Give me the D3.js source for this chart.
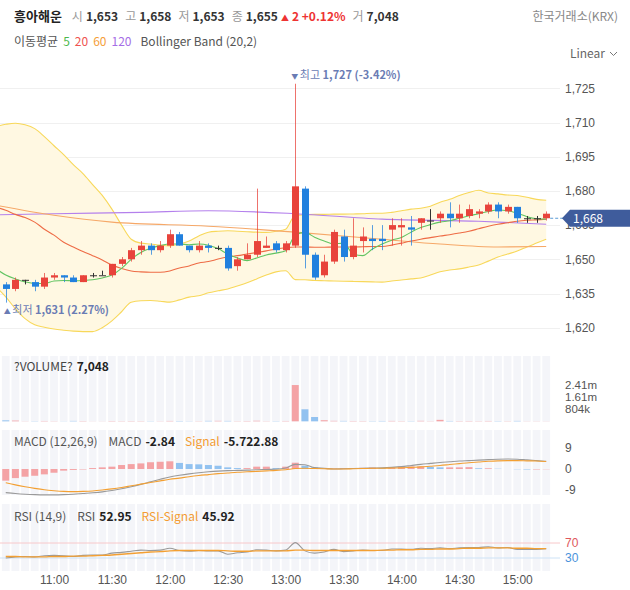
<!DOCTYPE html>
<html><head><meta charset="utf-8">
<script src="https://cdn.jsdelivr.net/npm/d3@7"></script>
<style>
html,body{margin:0;padding:0;background:#fff;}
svg{display:block;font-family:"Noto Sans CJK KR","Noto Sans",sans-serif;}
</style></head><body>
<svg id="c" width="630" height="590"></svg>
<script>
// ---------------- DATA ----------------
const times = ["10:35","10:40","10:45","10:50","10:55","11:00","11:05","11:10","11:15","11:20","11:25","11:30","11:35","11:40","11:45","11:50","11:55","12:00","12:05","12:10","12:15","12:20","12:25","12:30","12:35","12:40","12:45","12:50","12:55","13:00","13:05","13:10","13:15","13:20","13:25","13:30","13:35","13:40","13:45","13:50","13:55","14:00","14:05","14:10","14:15","14:20","14:25","14:30","14:35","14:40","14:45","14:50","14:55","15:00","15:05","15:10","15:15"];
const open  = [1639,1637,1641,1640,1638,1642,1643,1642,1640,1643,1643,1643,1648,1650,1654,1656,1654,1656,1661,1656,1654,1656,1655,1655,1647,1650,1652,1655,1657,1654,1656,1681,1652,1643,1649,1660,1651,1658,1659,1659,1663,1664,1664,1666,1667,1668,1670,1668,1669,1670,1671,1674,1671,1673,1668,1668,1668];
const high  = [1640,1642,1641,1641,1644,1644,1643,1643,1643,1644,1645,1648,1651,1655,1658,1657,1658,1663,1662,1656,1658,1657,1656,1656,1651,1657,1681,1660,1658,1658,1727,1682,1653,1652,1663,1663,1668,1664,1665,1665,1668,1668,1669,1668,1672,1671,1675,1674,1674,1672,1675,1675,1674,1673,1669,1669,1671];
const low   = [1631,1636,1639,1636,1637,1641,1640,1640,1640,1642,1643,1642,1647,1649,1652,1652,1653,1655,1656,1653,1653,1653,1654,1645,1645,1650,1651,1655,1653,1653,1655,1646,1641,1642,1648,1649,1650,1653,1654,1654,1656,1656,1656,1663,1663,1666,1664,1666,1668,1668,1670,1668,1670,1666,1666,1666,1667];
const close = [1637,1641,1641,1638,1642,1643,1642,1640,1643,1643,1643,1648,1650,1654,1656,1654,1656,1661,1656,1654,1656,1655,1655,1646,1650,1652,1658,1656,1654,1657,1682,1652,1642,1649,1662,1651,1656,1660,1658,1658,1665,1665,1663,1668,1667,1670,1668,1670,1672,1671,1674,1671,1673,1668,1668,1668,1670];
const volume = [62000,48000,9000,14000,22000,12000,7000,26000,18000,5000,6000,20000,15000,18000,16000,12000,10000,24000,20000,11000,13000,28000,30000,25000,14000,20000,35000,12000,15000,22000,2370000,785000,280000,70000,30000,25000,20000,18000,15000,22000,25000,16000,14000,30000,12000,95000,22000,18000,20000,15000,22000,16000,14000,25000,8000,9000,7048];

// line series start one bar earlier (10:30) than the visible candles
const lineTimes = ["10:30"].concat(times);
const bbUpper = [1708.3,1709.2,1709.7,1709.0,1707.3,1703.8,1699.8,1695.9,1691.5,1687.6,1682.8,1678.0,1672.0,1665.0,1658.8,1657.1,1656.7,1656.2,1655.9,1656.7,1658.0,1660.2,1661.9,1662.3,1662.5,1662.3,1662.1,1661.9,1661.8,1662.3,1663.2,1669.3,1669.5,1669.7,1669.7,1669.8,1669.8,1669.9,1670.0,1670.2,1670.2,1670.6,1671.3,1672.0,1672.4,1673.3,1675.0,1676.3,1678.0,1679.3,1680.3,1679.1,1678.7,1678.2,1678.0,1677.2,1676.3,1675.9];
const bbLower = [1637.9,1633.5,1628.3,1624.0,1621.3,1620.2,1619.4,1618.9,1618.5,1618.3,1618.3,1620.0,1623.0,1627.0,1631.2,1631.8,1631.9,1631.6,1631.2,1632.2,1633.4,1634.0,1635.3,1636.2,1637.0,1638.3,1639.7,1641.4,1643.1,1644.5,1645.0,1641.1,1641.0,1640.7,1640.6,1640.5,1640.4,1640.3,1640.2,1640.1,1640.0,1640.5,1640.9,1641.4,1641.8,1643.1,1644.5,1645.3,1645.8,1646.6,1647.5,1649.2,1651.0,1652.3,1653.6,1655.4,1657.1,1658.8];
const ma5 = [1645.8,1643.1,1641.4,1640.1,1639.4,1639.4,1640.5,1640.7,1640.6,1640.7,1641.0,1641.8,1643.1,1646.0,1650.0,1653.0,1654.8,1656.0,1656.7,1656.7,1656.4,1656.7,1656.2,1654.7,1652.3,1650.6,1649.4,1650.6,1651.9,1652.7,1653.7,1660.6,1661.8,1659.7,1658.0,1656.7,1657.1,1652.3,1651.6,1654.5,1656.7,1658.4,1659.6,1661.9,1663.9,1665.2,1666.3,1666.9,1668.0,1669.1,1670.0,1671.0,1671.6,1671.3,1670.2,1668.7,1667.8,1667.6];
const ma20 = [1672.8,1671.5,1669.7,1668.3,1666.3,1663.2,1660.6,1657.5,1655.4,1653.4,1651.6,1649.7,1647.5,1646.0,1644.9,1644.5,1644.3,1644.3,1644.9,1646.2,1647.1,1648.4,1649.0,1650.1,1651.0,1651.6,1652.3,1653.0,1653.7,1654.5,1655.1,1655.4,1655.4,1655.3,1655.3,1655.4,1655.4,1655.4,1655.5,1655.6,1655.6,1656.2,1657.1,1658.0,1658.8,1659.5,1660.2,1660.8,1661.5,1662.3,1663.4,1664.5,1665.4,1666.0,1666.7,1667.1,1667.3,1667.6];
const ma60Times  = ["10:30","11:00","11:30","12:20","13:05","13:50","14:20","14:50","15:15"];
const ma60       = [1673.7,1669.3,1666.3,1664.5,1661.9,1658.8,1656.7,1655.4,1655.6];
const ma120Times = ["10:30","11:00","11:45","12:20","13:05","13:50","14:40","15:15"];
const ma120      = [1669.5,1670.0,1670.6,1671.3,1670.0,1667.6,1666.7,1665.4];

const macdHist   = [-5.0,-3.9,-3.3,-2.9,-2.3,-1.6,-0.7,-0.4,-0.2,0.4,0.7,1.0,1.7,2.1,2.4,2.9,3.1,3.3,2.6,2.1,2.0,1.7,1.4,0.7,0.4,0.4,1.0,1.0,0.4,1.0,2.7,1.4,0.7,0.2,0.2,0.3,0.4,0.5,0.6,0.4,0.8,1.0,1.1,1.1,0.9,0.7,0.7,0.7,0.8,0.3,0.3,0.1,0.0,-0.1,-0.2,-0.2,-0.1];
const macdLine   = [-10.1,-10.5,-10.8,-11.0,-11.1,-11.1,-11.0,-10.8,-10.5,-10.2,-9.8,-9.2,-8.5,-7.6,-6.6,-5.5,-4.4,-3.4,-2.7,-2.1,-1.6,-1.2,-0.9,-0.7,-0.6,-0.5,-0.3,-0.2,-0.1,0.4,2.0,1.8,0.6,0.3,0.0,0.1,0.2,0.3,0.4,0.5,0.7,1.0,1.5,2.0,2.4,2.8,3.1,3.4,3.6,3.8,4.0,4.2,4.3,4.2,3.9,3.6,3.3];
const macdSignal = [-5.9,-6.8,-7.6,-8.3,-8.9,-9.3,-9.6,-9.7,-9.6,-9.4,-9.0,-8.5,-7.9,-7.2,-6.5,-5.8,-5.1,-4.4,-3.9,-3.3,-2.8,-2.4,-2.0,-1.7,-1.4,-1.2,-1.0,-0.8,-0.6,-0.3,0.2,0.3,0.2,0.1,0.0,0.0,0.1,0.2,0.3,0.3,0.4,0.5,0.7,0.9,1.2,1.5,1.9,2.3,2.7,3.0,3.3,3.5,3.6,3.6,3.5,3.4,3.2];
const rsi        = [30,33,34,33,36,37,36,34,37,38,38,43,45,48,51,50,51,56,50,48,50,49,49,40,44,46,52,51,49,51,71,49,43,46,53,47,49,51,50,50,54,54,53,56,55,57,55,57,58,58,60,57,58,53,53,53,55];
const rsiSignal  = [34,34,33,33,33,34,34,35,35,36,37,38,40,42,44,46,47,49,50,50,50,50,50,49,48,48,49,49,49,49,51,51,50,50,50,50,50,50,50,51,51,52,52,53,53,54,54,55,56,56,57,57,57,56,56,55,55];

const priceTicks = [1620,1635,1650,1665,1680,1695,1710,1725];
const volTicks   = [804000,1608000,2412000];
const macdTicks  = [-9,0,9];
const rsiTicks   = [30,70];
const timeTicks  = ["11:00","11:30","12:00","12:30","13:00","13:30","14:00","14:30","15:00"];
const lastPrice  = 1668;

// ---------------- CHART ----------------
const T = d3.timeParse("%H:%M");
const svg = d3.select("#c");
const PW = 560; // plot width
const x = d3.scaleTime().domain([T("10:35"), T("15:15")]).range([5.75, 546.2]);
const y = d3.scaleLinear().domain([1620, 1725]).range([327.7, 88.3]);
const yv = d3.scaleLinear().domain([0, 2412000]).range([421.3, 384.4]);
const ym = d3.scaleLinear().domain([-9, 9]).range([490, 448]);
const yr = d3.scaleLinear().domain([30, 70]).range([558, 543]);

const RED="#e8433b", BLUE="#2180de", DOJI="#333";
const RED_L="#f4a3a5", BLUE_L="#92c2f0";
const FONT_AX = 12;

// flowing text helper: segments [text, fill, bold, dx, size]
function flow(g, x0, y0, segs, size){
  const t = g.append("text").attr("x",x0).attr("y",y0).attr("font-size",size);
  segs.forEach(s=>{
    const sp = t.append("tspan").attr("fill",s[1]).text(s[0]);
    if (s[2]) sp.attr("font-weight","bold");
    if (s[3]) sp.attr("dx",s[3]);
    if (s[4]) sp.attr("font-size",s[4]);
  });
  return t;
}

svg.append("defs").append("clipPath").attr("id","pclip")
  .append("rect").attr("x",0).attr("y",62).attr("width",PW).attr("height",285);

// header
flow(svg, 14, 21, [
  ["흥아해운","#222",true,0,13],
  ["시","#999",false,10],["1,653","#333",true,3],
  ["고","#999",false,7],["1,658","#333",true,3],
  ["저","#999",false,7],["1,653","#333",true,3],
  ["종","#999",false,7],["1,655","#333",true,3],
  ["▲","#e33",false,3,8],["2 +0.12%","#e33",true,3],
  ["거","#999",false,7],["7,048","#333",true,3]
], 12);
svg.append("text").attr("x",618).attr("y",21).attr("text-anchor","end").attr("fill","#888").attr("font-size",12).text("한국거래소(KRX)");

flow(svg, 14, 46, [
  ["이동평균","#555",false,0],["5","#4cb84c",false,5],["20","#ef5350",false,5],
  ["60","#f5a03a",false,5],["120","#a56de6",false,5],["Bollinger Band (20,2)","#555",false,9]
], 12);
svg.append("text").attr("x",605).attr("y",58).attr("text-anchor","end").attr("font-size",12).attr("fill","#666").text("Linear");
svg.append("path").attr("d","M610,52 l3.5,3.5 l3.5,-3.5").attr("fill","none").attr("stroke","#777").attr("stroke-width",1);

// price grid + axis
const pg = svg.append("g");
pg.selectAll("line").data(priceTicks).join("line")
  .attr("x1",0).attr("x2",PW).attr("y1",d=>Math.round(y(d))+0.5).attr("y2",d=>Math.round(y(d))+0.5)
  .attr("stroke","#f0f0f0");
const pax = svg.append("g").attr("transform",`translate(${PW+5},0)`)
  .call(d3.axisRight(y).tickValues(priceTicks).tickFormat(d3.format(",")).tickSize(0).tickPadding(0));
pax.select(".domain").remove();
pax.selectAll("text").attr("font-size",FONT_AX).attr("fill","#555").attr("font-family",null);

// bands and averages
const P = svg.append("g").attr("clip-path","url(#pclip)");
const lt = lineTimes.map(T);
P.append("path").datum(d3.range(lt.length))
  .attr("d", d3.area().x(i=>x(lt[i])).y0(i=>y(bbLower[i])).y1(i=>y(bbUpper[i])).curve(d3.curveMonotoneX))
  .attr("fill","#fff8e2");
const lineOf = (vals, tms) => d3.line().x(i=>x(tms[i])).y(i=>y(vals[i])).curve(d3.curveMonotoneX)(d3.range(vals.length));
P.append("path").attr("d",lineOf(bbUpper,lt)).attr("fill","none").attr("stroke","#f8d85a").attr("stroke-width",1.1);
P.append("path").attr("d",lineOf(bbLower,lt)).attr("fill","none").attr("stroke","#f8d85a").attr("stroke-width",1.1);
P.append("path").attr("d",lineOf(ma120,ma120Times.map(T))).attr("fill","none").attr("stroke","#b480ec").attr("stroke-width",1.1);
P.append("path").attr("d",lineOf(ma60,ma60Times.map(T))).attr("fill","none").attr("stroke","#f6a868").attr("stroke-width",1.1);
P.append("path").attr("d",lineOf(ma20,lt)).attr("fill","none").attr("stroke","#ee6b45").attr("stroke-width",1.1);
P.append("path").attr("d",lineOf(ma5,lt)).attr("fill","none").attr("stroke","#62c462").attr("stroke-width",1.1);

// candles
const tt = times.map(T);
const cg = svg.append("g");
const col = i => close[i]>open[i]?RED:(close[i]<open[i]?BLUE:DOJI);
d3.range(times.length).forEach(i=>{
  const cx = Math.round(x(tt[i]))+0.5;
  cg.append("line").attr("x1",cx).attr("x2",cx).attr("y1",y(high[i])).attr("y2",y(low[i]))
    .attr("stroke",col(i)).attr("stroke-width",1).attr("stroke-opacity",close[i]===open[i]?1:0.75);
  const top = y(Math.max(open[i],close[i])), bot = y(Math.min(open[i],close[i]));
  cg.append("rect").attr("x",cx-3.5).attr("width",7).attr("y",top).attr("height",Math.max(1,bot-top)).attr("fill",col(i));
});

// high / low annotations
const hiIdx = d3.maxIndex(high), loIdx = d3.minIndex(low);
const pct = (a,b) => ((a-b)/b*100).toFixed(2);
const ann = svg.append("g").attr("font-size",11).attr("fill","#6a7cb4");
const hiT = ann.append("text").attr("x",x(tt[hiIdx])-4).attr("y",y(high[hiIdx])-5);
hiT.append("tspan").attr("font-size",7).text("▼ ");
hiT.append("tspan").text("최고 ");
hiT.append("tspan").attr("font-weight","bold").text(d3.format(",")(high[hiIdx])+" ("+pct(lastPrice,high[hiIdx])+"%)");
const loT = ann.append("text").attr("x",x(tt[loIdx])-2).attr("y",y(low[loIdx])+11);
loT.append("tspan").attr("font-size",7).text("▲ ");
loT.append("tspan").text("최저 ");
loT.append("tspan").attr("font-weight","bold").text(d3.format(",")(low[loIdx])+" ("+pct(lastPrice,low[loIdx])+"%)");

// last price tag
const ly = y(lastPrice);
svg.append("line").attr("x1",x(tt[tt.length-1])+4).attr("x2",563).attr("y1",ly).attr("y2",ly)
  .attr("stroke","#5b9bd5").attr("stroke-dasharray","3,2");
svg.append("path").attr("d",`M562,${ly} L570,${ly-8.5} L630,${ly-8.5} L630,${ly+8.5} L570,${ly+8.5} Z`).attr("fill","#3f5c9c");
svg.append("text").attr("x",573).attr("y",ly+4.3).attr("font-size",12).attr("fill","#fff").text(d3.format(",")(lastPrice));

// stripes for sub panels
const stripes = (y0,y1) => svg.append("g").selectAll("rect").data(tt).join("rect")
  .attr("x",d=>x(d)-3.9).attr("width",7.8).attr("y",y0).attr("height",y1-y0).attr("fill","#f4f5f9");
stripes(356,421.5); stripes(430,495); stripes(504,571);

// volume
svg.append("g").selectAll("rect").data(d3.range(times.length)).join("rect")
  .attr("x",i=>x(tt[i])-3.5).attr("width",7)
  .attr("y",i=>yv(volume[i])).attr("height",i=>yv(0)-yv(volume[i]))
  .attr("fill",i=>close[i]<open[i]?BLUE_L:RED_L);
const vfmt = v => v>=1e6 ? (v/1e6).toFixed(2)+"m" : Math.round(v/1000)+"k";
const vax = svg.append("g").attr("transform",`translate(${PW+5},0)`)
  .call(d3.axisRight(yv).tickValues(volTicks).tickFormat(vfmt).tickSize(0).tickPadding(0));
vax.select(".domain").remove();
vax.selectAll("text").attr("font-size",11.5).attr("fill","#555").attr("font-family",null);
flow(svg, 14, 371, [["?VOLUME?","#444",false,0],["7,048","#222",true,4]], 12);

// MACD
svg.append("g").selectAll("rect").data(d3.range(times.length)).join("rect")
  .attr("x",i=>x(tt[i])-3.5).attr("width",7)
  .attr("y",i=>Math.min(ym(0),ym(macdHist[i]))).attr("height",i=>Math.abs(ym(macdHist[i])-ym(0)))
  .attr("fill",i=> (i===0 || macdHist[i]>=macdHist[i-1]) ? RED_L : BLUE_L);
const subLine = (vals, ys) => d3.line().x(i=>x(tt[i])).y(i=>ys(vals[i])).curve(d3.curveMonotoneX)(d3.range(vals.length));
svg.append("path").attr("d",subLine(macdLine,ym)).attr("fill","none").attr("stroke","#9a9a9a").attr("stroke-width",1.1);
svg.append("path").attr("d",subLine(macdSignal,ym)).attr("fill","none").attr("stroke","#f3a033").attr("stroke-width",1.1);
const max = svg.append("g").attr("transform",`translate(${PW+5},0)`)
  .call(d3.axisRight(ym).tickValues(macdTicks).tickFormat(d3.format("d")).tickSize(0).tickPadding(0));
max.select(".domain").remove();
max.selectAll("text").attr("font-size",FONT_AX).attr("fill","#555").attr("font-family",null).text(d=>d<0?"-"+Math.abs(d):d);
flow(svg, 14, 446, [["MACD (12,26,9)","#555",false,0],["MACD","#555",false,11],["-2.84","#222",true,4],
  ["Signal","#f39c32",false,10],["-5.722.88","#222",true,4]], 12);

// RSI
svg.append("line").attr("x1",0).attr("x2",PW).attr("y1",yr(70)).attr("y2",yr(70)).attr("stroke","#f8c8ca");
svg.append("line").attr("x1",0).attr("x2",PW).attr("y1",yr(30)).attr("y2",yr(30)).attr("stroke","#cde2f6");
svg.append("path").attr("d",subLine(rsi,yr)).attr("fill","none").attr("stroke","#9a9a9a").attr("stroke-width",1.1);
svg.append("path").attr("d",subLine(rsiSignal,yr)).attr("fill","none").attr("stroke","#f3a033").attr("stroke-width",1.3);
const rax = svg.append("g").attr("transform",`translate(${PW+5},0)`)
  .call(d3.axisRight(yr).tickValues(rsiTicks).tickFormat(d3.format("d")).tickSize(0).tickPadding(0));
rax.select(".domain").remove();
rax.selectAll("text").attr("font-size",FONT_AX).attr("font-family",null).attr("fill",d=>d===70?"#e0575c":"#4a93db");
flow(svg, 14, 521, [["RSI (14,9)","#555",false,0],["RSI","#555",false,11],["52.95","#222",true,4],
  ["RSI-Signal","#f39c32",false,10],["45.92","#222",true,4]], 12);

// time axis
const xax = svg.append("g").attr("transform","translate(0,572)")
  .call(d3.axisBottom(x).tickValues(timeTicks.map(T)).tickFormat(d3.timeFormat("%H:%M")).tickSize(0).tickPadding(3));
xax.select(".domain").remove();
xax.selectAll("text").attr("font-size",FONT_AX).attr("fill","#555").attr("font-family",null);
</script>
</body></html>
